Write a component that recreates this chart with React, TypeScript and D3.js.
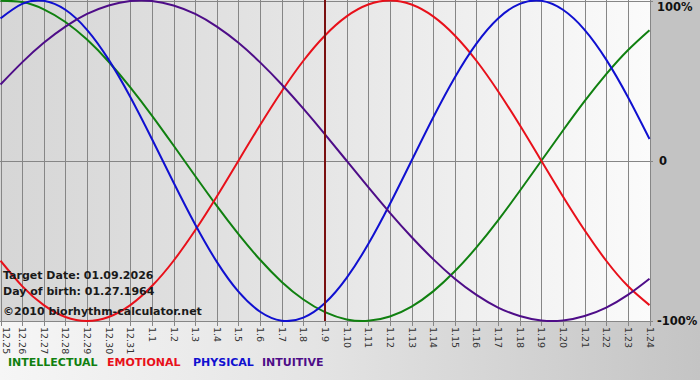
import React from "react";
import * as d3 from "d3";

const dayLabels = [
  "12.25", "12.26", "12.27", "12.28", "12.29", "12.30", "12.31",
  "1.1", "1.2", "1.3", "1.4", "1.5", "1.6", "1.7", "1.8", "1.9", "1.10",
  "1.11", "1.12", "1.13", "1.14", "1.15", "1.16", "1.17", "1.18", "1.19",
  "1.20", "1.21", "1.22", "1.23", "1.24",
];

const physical = [
  0.888, 0.979, 0.998, 0.942, 0.817, 0.631, 0.398, 0.136, -0.136, -0.398,
  -0.631, -0.817, -0.942, -0.998, -0.979, -0.888, -0.731, -0.52, -0.27, 0,
  0.27, 0.52, 0.731, 0.888, 0.979, 0.998, 0.942, 0.817, 0.631, 0.398, 0.136,
];

const emotional = [
  -0.624, -0.782, -0.901, -0.975, -1, -0.975, -0.901, -0.782, -0.624, -0.434,
  -0.223, 0, 0.223, 0.434, 0.624, 0.782, 0.901, 0.975, 1, 0.975,
  0.901, 0.782, 0.624, 0.434, 0.223, 0, -0.223, -0.434, -0.624, -0.782, -0.901,
];

const intellectual = [
  0.999, 0.99, 0.945, 0.866, 0.756, 0.618, 0.458, 0.282, 0.095, -0.095,
  -0.282, -0.458, -0.618, -0.756, -0.866, -0.945, -0.99, -0.999, -0.972, -0.91,
  -0.815, -0.69, -0.541, -0.372, -0.189, 0, 0.189, 0.372, 0.541, 0.69, 0.815,
];

const intuitive = [
  0.476, 0.614, 0.736, 0.837, 0.916, 0.969, 0.997, 0.997, 0.969, 0.916,
  0.837, 0.736, 0.614, 0.476, 0.325, 0.165, 0, -0.165, -0.325, -0.476,
  -0.614, -0.736, -0.837, -0.916, -0.969, -0.997, -0.997, -0.969, -0.916, -0.837, -0.736,
];

const targetIndex = 15;
const yTicks = [1, 0, -1];
const yTickLabels = ["100%", "0", "-100%"];

const series = [
  { name: "INTELLECTUAL", values: intellectual, color: "#108010" },
  { name: "EMOTIONAL", values: emotional, color: "#e8101a" },
  { name: "PHYSICAL", values: physical, color: "#1010d0" },
  { name: "INTUITIVE", values: intuitive, color: "#4e0d88" },
];
const legendX = [8, 107, 193, 262];

const infoLines = [
  "Target Date: 01.09.2026",
  "Day of birth: 01.27.1964",
  "©2010 biorhythm-calculator.net",
];

export default function App() {
  React.useEffect(() => {
    document.body.style.margin = "0";
  }, []);
  const W = 700;
  const H = 380;
  const plotL = 0;
  const plotR = 651;
  const plotT = 0;
  const plotB = 321;
  const x = d3.scaleLinear().domain([0, dayLabels.length - 1]).range([0.5, 649.5]);
  const y = d3.scaleLinear().domain([-1, 1]).range([plotB, plotT + 0.5]);
  const line = d3
    .line<number>()
    .x((_, i) => x(i))
    .y((v) => y(v))
    .curve(d3.curveNatural);
  const font = "'DejaVu Sans', Verdana, sans-serif";

  return (
    <svg width={W} height={H} style={{ display: "block" }} xmlns="http://www.w3.org/2000/svg">
      <defs>
        <linearGradient id="plotBg" x1="0" x2="1" y1="0" y2="0">
          <stop offset="0" stopColor="#d6d6d6" />
          <stop offset="0.5" stopColor="#e6e6e6" />
          <stop offset="1" stopColor="#fbfbfb" />
        </linearGradient>
        <linearGradient id="bottomBg" x1="0" x2="1" y1="0" y2="0">
          <stop offset="0" stopColor="#f6f6f6" />
          <stop offset="0.45" stopColor="#e4e4e4" />
          <stop offset="1" stopColor="#c4c4c4" />
        </linearGradient>
        <clipPath id="plotClip">
          <rect x={plotL} y={plotT} width={plotR - plotL} height={plotB - plotT + 1} />
        </clipPath>
      </defs>
      <rect x={0} y={0} width={W} height={H} fill="url(#bottomBg)" />
      <rect x={plotR} y={0} width={W - plotR} height={plotB + 1} fill="#c3c3c3" />
      <rect x={plotL} y={plotT} width={plotR - plotL} height={plotB - plotT} fill="url(#plotBg)" />

      {dayLabels.map((lab, i) => (
        <line
          key={"v" + i}
          x1={Math.round(x(i)) + 0.5}
          x2={Math.round(x(i)) + 0.5}
          y1={plotT}
          y2={plotB + 5}
          stroke="#868686"
          strokeWidth={1}
        />
      ))}
      {yTicks.map((t, i) => (
        <line
          key={"h" + i}
          x1={plotL}
          x2={plotR + 2}
          y1={Math.round(y(t)) + 0.5}
          y2={Math.round(y(t)) + 0.5}
          stroke="#868686"
          strokeWidth={1}
        />
      ))}

      <g clipPath="url(#plotClip)">
        {series.map((s) => (
          <path key={s.name} d={line(s.values) || ""} fill="none" stroke={s.color} strokeWidth={2} />
        ))}
      </g>

      <line
        x1={x(targetIndex)}
        x2={x(targetIndex)}
        y1={plotT}
        y2={plotB}
        stroke="#7a1010"
        strokeWidth={2}
      />

      {dayLabels.map((lab, i) => (
        <text
          key={"l" + i}
          transform={`translate(${Math.max(Math.round(x(i)) + 0.5, 6)},${plotB + 6}) rotate(90)`}
          dy="0.36em"
          fontFamily={font}
          fontSize={9.5}
          fill="#333"
        >
          {lab}
        </text>
      ))}

      {yTicks.map((t, i) => (
        <text
          key={"yl" + i}
          x={t === 0 ? 659 : 657}
          y={Math.min(Math.max(y(t), 7), 322)}
          dy="0.36em"
          fontFamily={font}
          fontSize={11.5}
          fontWeight="bold"
          fill="#111"
        >
          {yTickLabels[i]}
        </text>
      ))}

      {infoLines.map((t, i) => (
        <text
          key={"info" + i}
          x={3}
          y={[275, 291, 311][i]}
          dy="0.36em"
          fontFamily={font}
          fontSize={11}
          fontWeight="bold"
          fill="#1a1a1a"
        >
          {t}
        </text>
      ))}

      {series.map((s, i) => (
        <text
          key={"lg" + i}
          x={legendX[i]}
          y={362}
          dy="0.36em"
          fontFamily={font}
          fontSize={11}
          fontWeight="bold"
          fill={s.color}
        >
          {s.name}
        </text>
      ))}
    </svg>
  );
}
